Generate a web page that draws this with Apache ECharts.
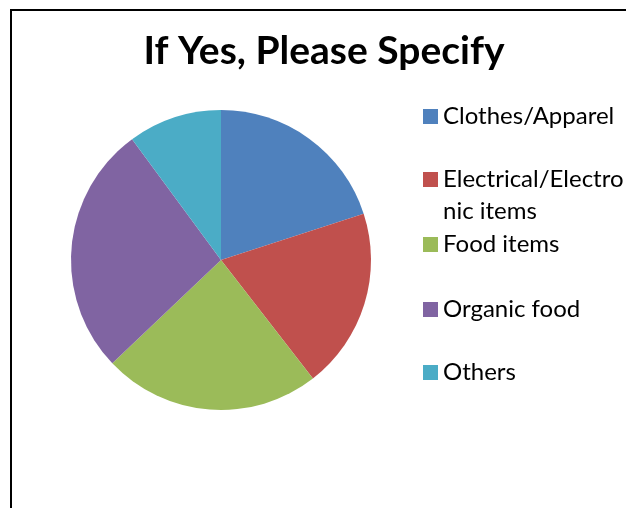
<!DOCTYPE html>
<html><head><meta charset="utf-8">
<script src="https://cdn.jsdelivr.net/npm/echarts@6/dist/echarts.min.js"></script>
<style>html,body{margin:0;padding:0;background:#fff}#c{width:626px;height:508px}</style>
</head><body><div id="c"></div>
<script>
const titleText = 'If Yes, Please Specify';
const categories = ['Clothes/Apparel', 'Electrical/Electronic items', 'Food items', 'Organic food', 'Others'];
const values = [20.0, 19.5, 23.4, 27.0, 10.1];
const colors = ['#4F81BD', '#C0504D', '#9BBB59', '#8064A2', '#4BACC6'];

// wrap position of the long legend entry, as in the reference
const wrapAt = 18;
const legendCenters = [116, 179, 244, 309, 372];
const lh = 32;
const font = 'Lato, "Open Sans", sans-serif';
const legends = categories.map((name, i) => {
  const twoLine = name.length > wrapAt;
  return {
    orient: 'vertical', left: 418,
    top: legendCenters[i] - (twoLine ? lh * 1.5 : lh / 2) - 4.5,
    itemWidth: 15, itemHeight: 15, itemGap: 0, icon: 'rect',
    selectedMode: false,
    data: [name],
    formatter: n => n.length > wrapAt ? '\n' + n.slice(0, wrapAt) + '\n' + n.slice(wrapAt) : n,
    textStyle: { fontFamily: font, fontSize: 24, color: '#000', lineHeight: lh }
  };
});

const chart = echarts.init(document.getElementById('c'), null, { renderer: 'canvas' });
chart.setOption({
  animation: false,
  color: colors,
  title: {
    text: titleText, left: 319, top: 27, textAlign: 'center',
    textStyle: { fontFamily: font, fontSize: 39, fontWeight: 'bold', color: '#000' }
  },
  legend: legends,
  graphic: [{
    type: 'rect', shape: { x: 11, y: 10, width: 800, height: 700 },
    style: { fill: 'none', stroke: '#000', lineWidth: 2 }, silent: true
  }],
  series: [{
    type: 'pie', center: [221, 260], radius: 150, startAngle: 90, clockwise: true,
    label: { show: false }, labelLine: { show: false },
    itemStyle: { borderWidth: 0 },
    emphasis: { disabled: true },
    data: categories.map((n, i) => ({ name: n, value: values[i] }))
  }]
});
</script></body></html>
